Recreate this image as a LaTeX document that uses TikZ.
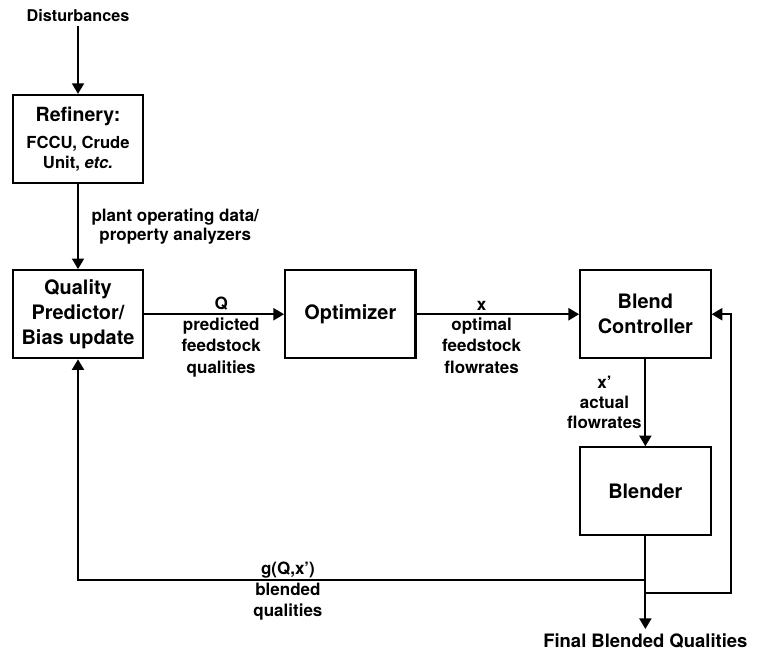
\documentclass[tikz,border=0pt]{standalone}
\usepackage{fontspec}
\setmainfont{TeX Gyre Heros}
\usepackage{tikz}
\usetikzlibrary{arrows.meta,positioning}
\tikzset{
  blockbox/.style={rectangle,draw=black,line width=1.6pt,minimum width=3.45cm,minimum height=2.33cm,align=center,font=\fontsize{15}{18.75}\selectfont\bfseries},
  lbl/.style={align=center,font=\fontsize{12.8}{16}\selectfont\bfseries,inner sep=2pt},
  arr/.style={-{Triangle[length=8pt,width=9pt]},line width=1.6pt,color=black}
}

\begin{document}
\begin{tikzpicture}[node distance=2.25cm and 3.7cm]
  \useasboundingbox (-2.064,3.678) rectangle (17.966,-13.759);

  \node[blockbox,font=\fontsize{12.5}{15}\selectfont\bfseries] (refinery) at (0,0)
      {{\fontsize{14.7}{15}\selectfont Refinery:}\\[5pt]FCCU, Crude\\Unit, \textit{etc.}};
  \node[blockbox,below=of refinery] (qp) {Quality\\Predictor/\\Bias update};
  \node[blockbox,right=of qp] (optim) {Optimizer};
  \node[blockbox,right=4.3cm of optim] (blendctl) {Blend\\Controller};
  \node[blockbox,below=2.3cm of blendctl] (blender) {Blender};

  \node[font=\fontsize{12.2}{15}\selectfont\bfseries,above=1.8cm of refinery] (dist) {Disturbances};
  \node[font=\fontsize{13.9}{17}\selectfont\bfseries,below=2.45cm of blender] (final) {Final Blended Qualities};
  \coordinate[below=1.16cm of blender.south] (tapL);
  \coordinate[below=1.5cm of blender.south] (tapR);

  \draw[arr] (dist) -- (refinery);
  \draw[arr] (refinery) -- (qp) node[lbl,midway,right=0.26cm,font=\fontsize{12.8}{14.5}\selectfont\bfseries] {plant operating data/\\property analyzers};
  \draw[arr] (qp) -- (optim) node[lbl,pos=0.55,above] {Q} node[lbl,pos=0.55,below] {predicted\\feedstock\\qualities};
  \draw[arr] (optim) -- (blendctl) node[lbl,pos=0.4,above] {x} node[lbl,pos=0.4,below] {optimal\\feedstock\\flowrates};
  \draw[arr] (blendctl) -- (blender) node[lbl,midway,left,font=\fontsize{12.8}{15}\selectfont\bfseries] {x'\\actual\\flowrates};
  \draw[arr] (blender) -- (final);
  \draw[arr] (tapL) -| (qp) node[lbl,pos=0.315,above,inner sep=1pt] {g(Q,x')} node[lbl,pos=0.315,below,inner sep=1pt] {blended\\qualities};
  \draw[arr] (tapR) -- ++(2.27cm,0) |- (blendctl);
\end{tikzpicture}
\end{document}
